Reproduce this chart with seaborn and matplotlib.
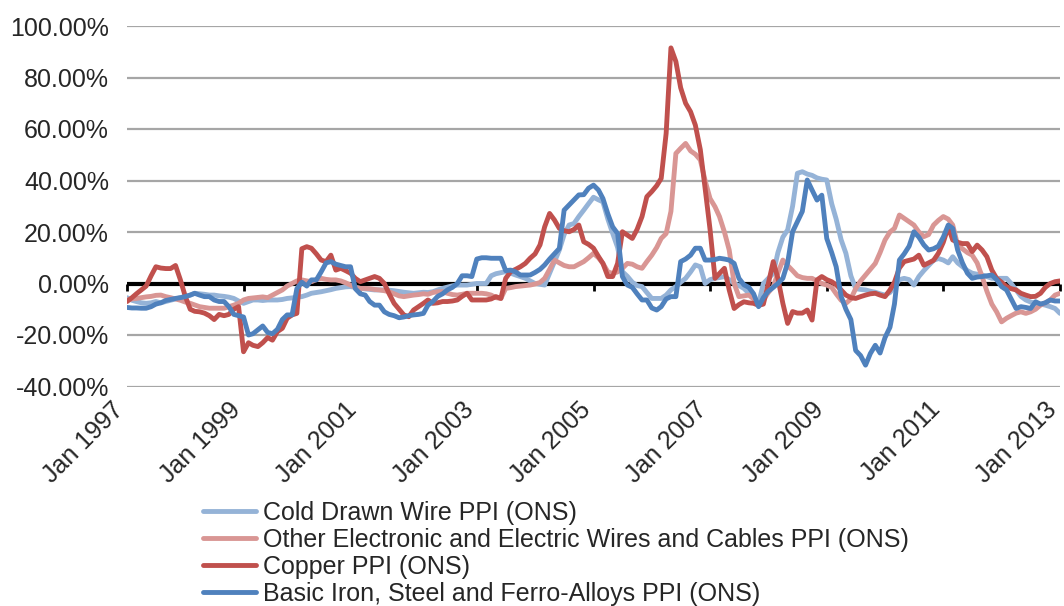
import matplotlib
matplotlib.use("Agg")
import matplotlib.pyplot as plt
from matplotlib.transforms import ScaledTranslation
import numpy as np
import pandas as pd
import seaborn as sns

# ---------------- data (monthly, Jan 1997 - Jan 2013, % change) ----------------
dates = pd.date_range("1997-01-01", "2013-01-01", freq="MS")

cold_drawn = [
    -5.5, -6.5, -7, -7.5, -7.7, -7.5, -7, -7.5, -7, -6.5, -6, -5.5,          # 1997
    -5, -4.5, -3.8, -4, -4.2, -4.5, -4.5, -4.8, -5, -5.3, -5.8, -6.8,        # 1998
    -7.7, -7, -6.4, -6.4, -6.6, -6.4, -6.4, -6.4, -6.2, -5.8, -5.6, -5.3,    # 1999
    -5.1, -4.5, -3.8, -3.5, -3.2, -2.8, -2.4, -1.9, -1.6, -1.3, -1.2, -1.5,  # 2000
    -1.9, -2.1, -2.3, -2.5, -2.5, -2.5, -2.6, -2.8, -3.1, -3.4, -3.6, -3.8,  # 2001
    -3.6, -3.4, -3.5, -3.2, -2.5, -1.9, -1.4, -0.9, -0.6, -0.6, -0.6, -0.3,  # 2002
    0, 0, 0, 3, 3.8, 4.2, 4.6, 4, 3.3, 2.7, 2, 1,                            # 2003
    0, -0.3, -0.6, 4, 8.5, 13, 19, 22.7, 23.3, 26, 28.5, 31,                 # 2004
    33.5, 32.5, 31.7, 25, 19.5, 14, 4.6, 2.8, 0.5, -0.8, -1.2, -3.5,         # 2005
    -5.8, -5.8, -5.8, -4.5, -2.5, -1.2, 0.5, 2, 4.5, 7.2, 6.5, 0,            # 2006
    1.5, 2, 2.3, 2.7, 1.5, 0, -0.8, -1.9, -3.8, -5.5, -7.7, 0,               # 2007
    2, 3.9, 12, 18, 20.8, 30, 42.8, 43.4, 42.5, 42, 41, 40.5,                # 2008
    40.2, 31, 25, 17, 11.7, 3, -2, -2.3, -2.5, -3, -3.4, -4,                 # 2009
    -4.5, -3.5, -1.2, 1.5, 2, 1.5, -0.6, 2.7, 5, 7, 9, 9.7,                  # 2010
    9.1, 8, 10.4, 8, 6.5, 5, 4, 3.6, 3.3, 2.7, 2, 2,                         # 2011
    2, 2, 0, -2.5, -5, -6.4, -7.2, -7.7, -8, -8.4, -9, -9.7,                 # 2012
    -11.6,                                                                   # 2013
]

other_wires = [
    -6.4, -6, -5.8, -5.5, -5.2, -5, -4.6, -4.5, -5.1, -5.5, -6, -6.5,
    -7.2, -7.7, -8.3, -9, -9.3, -9.6, -9.6, -9.6, -9.6, -9, -8.4, -7.7,
    -6.4, -5.8, -5.6, -5.4, -5.2, -5.5, -4.5, -3.5, -2.5, -1, 0, 1,
    1.4, 1, 0.7, 1.5, 2, 1.6, 1.4, 1.4, 1, 0.3, -0.6, -1.5,
    -1.9, -1.9, -2, -2.3, -2.5, -2.8, -3.2, -4, -4.8, -5.1, -4.8, -4.5,
    -4.3, -4, -4.2, -3.5, -3.2, -3.2, -3.8, -4.3, -4.5, -4.2, -3.8, -3.8,
    -3.8, -3.8, -4, -4.5, -5.5, -5.8, -1.9, -1.6, -1.2, -1, -0.8, -0.6,
    -0.2, 0.4, 2, 5.5, 9.1, 8, 7, 6.5, 6.5, 7.5, 8.5, 10,
    11.7, 10, 7.8, 4.5, 3.9, 4.5, 5.9, 7.8, 7.5, 6.5, 5.9, 8.5,
    11, 14, 17.5, 19.4, 28, 50.5, 52.5, 54.4, 51.5, 50.2, 48, 40,
    33, 29.8, 26, 20, 13, 0, -5.1, -4.8, -4.5, -6, -8.4, -6.4,
    -3.5, -1.2, 4, 9.1, 7, 5, 3, 2.3, 2, 2, 1, 0,
    -0.6, -1.5, -4, -6.5, -7.7, -6, -2, 1, 3.3, 5.5, 7.8, 12,
    16.9, 20, 21.4, 26.6, 25.3, 24, 22.7, 20, 18.2, 19, 22.7, 24.5,
    26, 25, 22.7, 14.9, 13.5, 12, 11, 8, 2.7, -3, -8, -11,
    -14.9, -13.5, -12.5, -11.5, -11, -11.6, -11, -10, -8.4, -7.5, -6.4, -4.5,
    -3.8,
]

copper = [
    -7, -5.5, -4, -2.5, -1, 3, 6.5, 6, 5.8, 5.8, 7, 1.5,
    -5, -10, -10.8, -11, -11.5, -12.5, -14, -12, -12.5, -12, -10, -9,
    -26.5, -23, -24, -24.5, -23, -21, -22, -18.7, -17.4, -13.5, -12.2, -11.6,
    13.5, 14.3, 13.7, 11.5, 9.1, 8.5, 11, 5.2, 5.9, 5, 4, 2,
    0.7, 1.4, 2, 2.7, 2, 0, -4, -7.7, -10, -12.2, -12.9, -10.3,
    -9, -7.7, -6.4, -7.7, -7.5, -7, -7, -6.8, -6.4, -5, -3.8, -6.4,
    -6.4, -6.4, -6.4, -6, -5.1, -5.8, 2, 4.6, 5.5, 6.5, 7.8, 9.8,
    11.5, 15, 22, 27.2, 24.7, 21.4, 20.5, 20.1, 21, 22.7, 16.2, 15.2,
    13.7, 10.5, 7.8, 2.7, 2.7, 7.8, 20.1, 18.8, 17.5, 21, 26, 33.7,
    35.7, 38, 40.8, 58.3, 91.5, 86.2, 76, 70, 66.7, 61.5, 52, 37,
    21, 2, 3.9, 5.9, -2.5, -9.7, -8.2, -7.1, -7.5, -7.7, -8.5, -8,
    0, 8.5, 2, -7.7, -15.5, -10.9, -11.5, -11.5, -10.3, -14.2, 1.4, 2.7,
    1.5, 0.7, -0.5, -2.5, -4.5, -5.5, -5.8, -5.1, -4.5, -4, -3.8, -4.5,
    -5.1, -2.5, 0.5, 6, 8.5, 9, 9.5, 11, 7.1, 8, 9, 11.7,
    16, 22, 16.9, 16, 15.5, 15.5, 12.4, 14.9, 13, 10.4, 5.2, 2,
    0.5, -1.2, -2, -2.5, -3.8, -4.5, -5.1, -5, -3.8, -1.5, 0, 0.7,
    1,
]

basic_iron = [
    -9.3, -9.5, -9.5, -9.6, -9.6, -9, -8, -7.5, -6.6, -6.2, -5.8, -5.5,
    -5.1, -4.5, -3.8, -4.5, -5.1, -5.1, -6.4, -7, -7, -9, -12, -12.5,
    -13, -20, -19.5, -18, -16.5, -19, -19.5, -17.8, -14, -12.2, -12.2, -2,
    0.5, -1, 1.4, 1.4, 4.5, 8, 8.5, 7.5, 7, 6.5, 6.5, -2,
    -4, -4.5, -7, -8.4, -8.4, -11, -12, -12.5, -13.3, -13, -12.5, -12.2,
    -12, -11.6, -8.4, -7, -5, -4, -2.5, -1.5, 0, 3, 3, 2.7,
    9.5, 10, 10, 9.8, 9.8, 9.8, 5, 5.2, 4.5, 3.3, 3.3, 3.3,
    4.3, 5.5, 7.2, 9.5, 11.5, 13.6, 28.5, 30.5, 32.5, 34.4, 34.5, 37,
    38.2, 36.3, 33, 27, 22, 19.4, 2.7, -0.6, -1.5, -4, -6.4, -6.4,
    -9.5, -10.3, -9, -6, -5.1, -5.1, 8.5, 9.5, 11, 13.7, 13.7, 9.1,
    9.1, 9.3, 9.8, 9.5, 9.1, 7.8, 2, -0.5, -1.5, -4, -9, -5.5,
    -3, -1.5, 0, 2, 8, 20.1, 24, 28, 40.2, 36.3, 32.4, 34.3,
    17.5, 12, 6.5, -5, -10, -14, -26, -28, -31.7, -27.2, -24, -27,
    -21, -17, -8, 9.1, 11.5, 14.5, 20.1, 18, 15, 13, 13.5, 14.5,
    18, 22.7, 21.4, 13, 8, 4, 2, 2.5, 2.7, 3, 3.3, 1.5,
    -1.2, -2.5, -6, -9.7, -9, -9.3, -9.7, -7.1, -8, -7.5, -6.4, -6.8,
    -6.8,
]

series_names = [
    "Cold Drawn Wire PPI (ONS)",
    "Other Electronic and Electric Wires and Cables PPI (ONS)",
    "Copper PPI (ONS)",
    "Basic Iron, Steel and Ferro-Alloys PPI (ONS)",
]
series_colors = ["#95B3D7", "#D99694", "#C0504D", "#4F81BD"]
tick_years = list(range(1997, 2014, 2))
y_ticks = [-40, -20, 0, 20, 40, 60, 80, 100]

# ---------------- build table ----------------
frames = []
for name, vals in zip(series_names, [cold_drawn, other_wires, copper, basic_iron]):
    frames.append(pd.DataFrame({"date": dates, "value": vals, "series": name}))
df = pd.concat(frames, ignore_index=True)

# ---------------- plot ----------------
sns.set_style("white")
plt.rcParams["font.family"] = ["Liberation Sans", "DejaVu Sans"]

W, H = 1064, 606
fig = plt.figure(figsize=(W / 100, H / 100), dpi=100)
ax = fig.add_axes([127 / W, 1 - 386.5 / H, (1060 - 127) / W, 360.5 / H])

ax.yaxis.grid(True, color="#A6A6A6", linewidth=1.6, zorder=0)
ax.set_axisbelow(True)

sns.lineplot(data=df, x="date", y="value", hue="series", hue_order=series_names,
             palette=series_colors, linewidth=3.5, ax=ax, legend=True, zorder=3)

ax.axhline(0, color="black", linewidth=3.0, zorder=2)

ax.set_ylim(-40, 100)
ax.set_xlim(dates[0], dates[-1])
ax.set_yticks(y_ticks)
ax.set_yticklabels([f"{v:.2f}%" for v in y_ticks])
tick_dates = [pd.Timestamp(f"{y}-01-01") for y in tick_years]
ax.set_xticks(tick_dates)
ax.set_xticklabels([f"Jan {y}" for y in tick_years], rotation=45, ha="right",
                   va="center", rotation_mode="anchor")
ax.tick_params(axis="y", length=0, pad=13, labelsize=18)
ax.tick_params(axis="x", length=0, pad=14, labelsize=18)
shift = ScaledTranslation(-5 / 72, 0, fig.dpi_scale_trans)
for lab in ax.get_xticklabels():
    lab.set_transform(lab.get_transform() + shift)
ax.set_xlabel("")
ax.set_ylabel("")
for s in ax.spines.values():
    s.set_visible(False)

# tick marks on the zero line
sec = ax.secondary_xaxis(40 / 140)
sec.set_xticks(tick_dates)
sec.tick_params(axis="x", length=5, width=2, direction="out", color="black",
                labelbottom=False, labeltop=False)
for s in sec.spines.values():
    s.set_visible(False)

handles, labels = ax.get_legend_handles_labels()
ax.legend(handles, labels, loc="upper left", bbox_to_anchor=(203 / W, 1 - 501 / H),
          bbox_transform=fig.transFigure, frameon=False, fontsize=18,
          handlelength=2.1, handletextpad=0.3, labelspacing=0.12,
          borderpad=0, borderaxespad=0)
for line in ax.get_legend().get_lines():
    line.set_linewidth(3.5)

fig.savefig("out.png", dpi=100)
